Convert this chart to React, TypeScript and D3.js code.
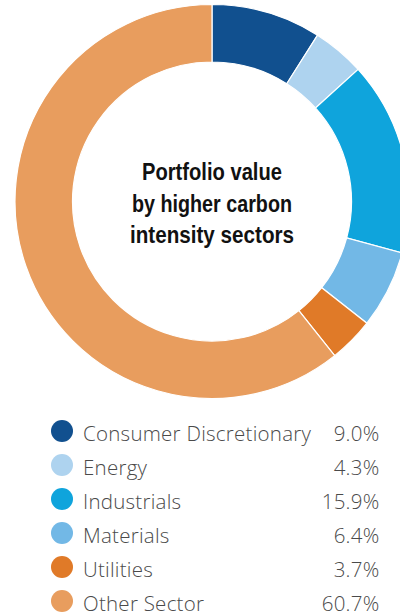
import React from "react";
import * as d3 from "d3";

const categories = ["Consumer Discretionary", "Energy", "Industrials", "Materials", "Utilities", "Other Sector"];
const values = [9.0, 4.3, 15.9, 6.4, 3.7, 60.7];
const valueLabels = ["9.0%", "4.3%", "15.9%", "6.4%", "3.7%", "60.7%"];
const colors = ["#11508f", "#aed3ef", "#0fa4dc", "#72b8e6", "#e07a28", "#e89d5e"];
const titleLines = ["Portfolio value", "by higher carbon", "intensity sectors"];
const titleWidths = [140, 160, 164];

export default function App() {
  const W = 400, H = 615;
  const cx = 212, cy = 201.5, R = 197, r = 139.5;
  const data = categories.map((c, i) => ({ c, v: values[i], i }));
  const pie = d3.pie<any>().value((d) => d.v).sort(null);
  const arc = d3.arc<any>().innerRadius(r).outerRadius(R);
  const arcs = pie(data);
  const legendY = d3.scaleLinear().domain([0, 1]).range([431, 465]);
  const lblStyle = { fontFamily: "'Open Sans', sans-serif", fontWeight: 300, fontSize: 20.5, letterSpacing: 0.25, fill: "#4a4a4a" };
  return (
    <svg width={W} height={H} style={{ position: "absolute", left: 0, top: 0, background: "#fff" }}>
      <g transform={`translate(${cx},${cy})`}>
        {arcs.map((a, i) => (
          <path key={i} d={arc(a) as string} fill={colors[i]} stroke="#fff" strokeWidth={1.2} />
        ))}
        {titleLines.map((t, i) => (
          <text key={i} x={-titleWidths[i] / 2} y={-21.5 + i * 31.5} textLength={titleWidths[i]} lengthAdjust="spacingAndGlyphs"
            style={{ fontFamily: "'Liberation Sans', 'DejaVu Sans Condensed', sans-serif", fontWeight: 700, fontSize: 24.5, fill: "#111" }}>
            {t}
          </text>
        ))}
      </g>
      {categories.map((c, i) => (
        <g key={c}>
          <circle cx={62} cy={legendY(i)} r={11} fill={colors[i]} />
          <text x={83} y={legendY(i) + 9.5} style={lblStyle}>{c}</text>
          <text x={379.5} y={legendY(i) + 9.5} textAnchor="end" style={lblStyle}>{valueLabels[i]}</text>
        </g>
      ))}
    </svg>
  );
}
